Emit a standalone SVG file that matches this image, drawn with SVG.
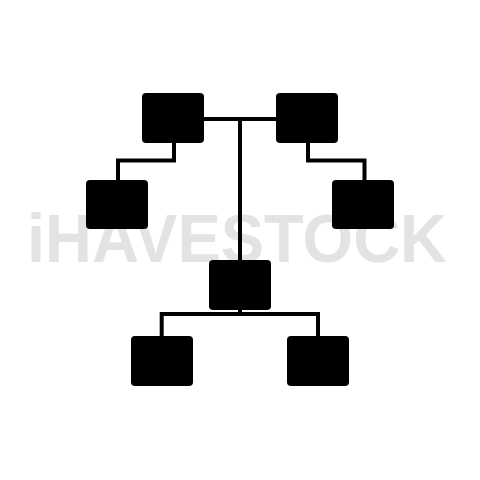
<svg xmlns="http://www.w3.org/2000/svg" width="480" height="480" viewBox="0 0 480 480">
<style>
.n{fill:#000}
.c{fill:none;stroke:#000;stroke-width:4;stroke-linejoin:miter}
.wm{font-family:"Liberation Sans",Arial,sans-serif;font-weight:bold;font-size:68px;fill:#e3e3e3}
</style>
<rect width="480" height="480" fill="#fff"/>
<text class="wm" x="27" y="262" textLength="420" lengthAdjust="spacingAndGlyphs">iHAVESTOCK</text>
<g id="connectors">
<path class="c" d="M204 119H276M240 119V261"/>
<path class="c" d="M174 143V160.5H118V180"/>
<path class="c" d="M308 143V160.5H364.5V180"/>
<path class="c" d="M240 310V314M161.7 336V314H318V336"/>
</g>
<g id="top-left"><rect class="n" x="142" y="93" width="62" height="50" rx="4"/></g>
<g id="top-right"><rect class="n" x="276" y="93" width="62" height="50" rx="4"/></g>
<g id="mid-left"><rect class="n" x="86" y="180" width="62" height="49" rx="4"/></g>
<g id="mid-right"><rect class="n" x="332" y="180" width="62" height="49" rx="4"/></g>
<g id="center"><rect class="n" x="209" y="260" width="62" height="50" rx="4"/></g>
<g id="bottom-left"><rect class="n" x="131" y="336" width="62" height="50" rx="4"/></g>
<g id="bottom-right"><rect class="n" x="287" y="336" width="62" height="50" rx="4"/></g>
</svg>
